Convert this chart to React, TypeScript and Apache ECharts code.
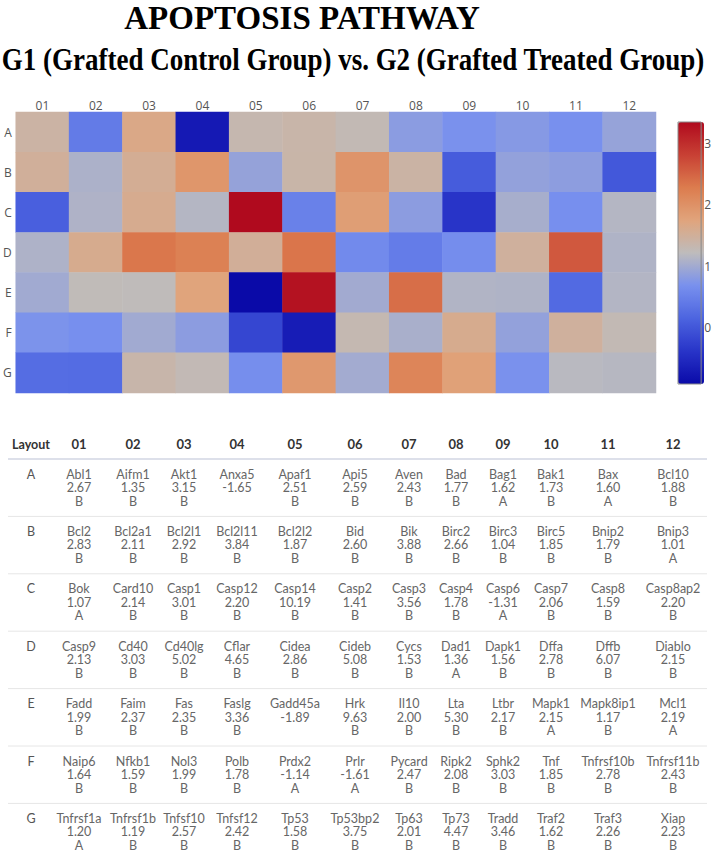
import React, { useEffect, useRef } from "react";
import * as echarts from "echarts";

// ---------------- data ----------------
const columns = ["01", "02", "03", "04", "05", "06", "07", "08", "09", "10", "11", "12"];
const rows = ["A", "B", "C", "D", "E", "F", "G"];
const colorbarTicks = [0, 1, 2, 3];

const genes: string[][] = [
  ["Abl1", "Aifm1", "Akt1", "Anxa5", "Apaf1", "Api5", "Aven", "Bad", "Bag1", "Bak1", "Bax", "Bcl10"],
  ["Bcl2", "Bcl2a1", "Bcl2l1", "Bcl2l11", "Bcl2l2", "Bid", "Bik", "Birc2", "Birc3", "Birc5", "Bnip2", "Bnip3"],
  ["Bok", "Card10", "Casp1", "Casp12", "Casp14", "Casp2", "Casp3", "Casp4", "Casp6", "Casp7", "Casp8", "Casp8ap2"],
  ["Casp9", "Cd40", "Cd40lg", "Cflar", "Cidea", "Cideb", "Cycs", "Dad1", "Dapk1", "Dffa", "Dffb", "Diablo"],
  ["Fadd", "Faim", "Fas", "Faslg", "Gadd45a", "Hrk", "Il10", "Lta", "Ltbr", "Mapk1", "Mapk8ip1", "Mcl1"],
  ["Naip6", "Nfkb1", "Nol3", "Polb", "Prdx2", "Prlr", "Pycard", "Ripk2", "Sphk2", "Tnf", "Tnfrsf10b", "Tnfrsf11b"],
  ["Tnfrsf1a", "Tnfrsf1b", "Tnfsf10", "Tnfsf12", "Tp53", "Tp53bp2", "Tp63", "Tp73", "Tradd", "Traf2", "Traf3", "Xiap"],
];

// fold regulation values as printed in the table
const foldRegulation: number[][] = [
  [2.67, 1.35, 3.15, -1.65, 2.51, 2.59, 2.43, 1.77, 1.62, 1.73, 1.6, 1.88],
  [2.83, 2.11, 2.92, 3.84, 1.87, 2.6, 3.88, 2.66, 1.04, 1.85, 1.79, 1.01],
  [1.07, 2.14, 3.01, 2.2, 10.19, 1.41, 3.56, 1.78, -1.31, 2.06, 1.59, 2.2],
  [2.13, 3.03, 5.02, 4.65, 2.86, 5.08, 1.53, 1.36, 1.56, 2.78, 6.07, 2.15],
  [1.99, 2.37, 2.35, 3.36, -1.89, 9.63, 2.0, 5.3, 2.17, 2.15, 1.17, 2.19],
  [1.64, 1.59, 1.99, 1.78, -1.14, -1.61, 2.47, 2.08, 3.03, 1.85, 2.78, 2.43],
  [1.2, 1.19, 2.57, 2.42, 1.58, 3.75, 2.01, 4.47, 3.46, 1.62, 2.26, 2.23],
];

const groupLetters: string[][] = [
  ["B", "B", "B", "", "B", "B", "B", "B", "A", "B", "A", "B"],
  ["B", "B", "B", "B", "B", "B", "B", "B", "B", "B", "B", "A"],
  ["A", "B", "B", "B", "B", "B", "B", "B", "A", "B", "B", "B"],
  ["B", "B", "B", "B", "B", "B", "B", "A", "B", "B", "B", "B"],
  ["B", "B", "B", "B", "", "B", "B", "B", "B", "A", "B", "A"],
  ["B", "B", "B", "B", "A", "A", "B", "B", "B", "B", "B", "B"],
  ["A", "B", "B", "B", "B", "B", "B", "B", "B", "B", "B", "B"],
];

// ---------------- layout / style ----------------
const tableColX = [79, 133, 184, 237, 295, 355, 409, 456, 503, 551, 608, 673];
const tableLabelX = 31;
const tableHeaderY = 444;
const tableTop = 459;
const tableRowPitch = 57.4;
const tableLineOffsets = [15, 28.5, 42];
const tableFont = "Lato, 'Open Sans', sans-serif";
const axisFont = "'Open Sans', sans-serif";

const heatColors = [
  "#0a0aa8",
  "#2834c8",
  "#4c64e0",
  "#7890ee",
  "#bebcbc",
  "#e0a47c",
  "#dc7c4e",
  "#c84034",
  "#b00a1e",
];

// heatmap value = log2 of fold change (fold regulation < 0 means fold change = -1/x)
const toLog2 = (f: number) => Math.log2(f > 0 ? f : -1 / f);

export default function App() {
  const ref = useRef<HTMLDivElement>(null);

  useEffect(() => {
    document.body.style.margin = "0";
    if (!ref.current) return;
    const chart = echarts.init(ref.current, undefined, { renderer: "svg" });

    const heatData: number[][] = [];
    rows.forEach((_, ri) =>
      columns.forEach((_, ci) => {
        heatData.push([ci, ri, toLog2(foldRegulation[ri][ci])]);
      })
    );
    const vals = heatData.map((d) => d[2]);
    const vMin = Math.min(...vals);
    const vMax = Math.max(...vals);

    const graphic: any[] = [
      {
        type: "text",
        x: 302,
        y: 18,
        style: {
          text: "APOPTOSIS PATHWAY",
          fontFamily: "'Liberation Serif', 'Times New Roman', serif",
          fontWeight: "bold",
          fontSize: 33,
          fill: "#000",
          align: "center",
          verticalAlign: "middle",
        },
      },
      {
        type: "text",
        x: 353,
        y: 59,
        scaleY: 1.15,
        style: {
          text: "G1 (Grafted Control Group) vs. G2 (Grafted Treated Group)",
          fontFamily: "'Liberation Serif', 'Times New Roman', serif",
          fontWeight: "bold",
          fontSize: 27,
          fill: "#000",
          align: "center",
          verticalAlign: "middle",
        },
      },
    ];

    // table header
    graphic.push({
      type: "text",
      x: tableLabelX,
      y: tableHeaderY,
      style: {
        text: "Layout",
        fontFamily: tableFont,
        fontWeight: "bold",
        fontSize: 12.5,
        fill: "#333",
        align: "center",
        verticalAlign: "middle",
      },
    });
    columns.forEach((c, ci) =>
      graphic.push({
        type: "text",
        x: tableColX[ci],
        y: tableHeaderY,
        style: {
          text: c,
          fontFamily: tableFont,
          fontWeight: "bold",
          fontSize: 13,
          fill: "#333",
          align: "center",
          verticalAlign: "middle",
        },
      })
    );
    graphic.push({
      type: "line",
      shape: { x1: 8, y1: tableTop, x2: 707, y2: tableTop },
      style: { stroke: "#dde0ea", lineWidth: 2 },
    });

    rows.forEach((r, ri) => {
      const y0 = tableTop + ri * tableRowPitch;
      if (ri > 0) {
        graphic.push({
          type: "line",
          shape: { x1: 8, y1: y0, x2: 707, y2: y0 },
          style: { stroke: "#e6e6e6", lineWidth: 1 },
        });
      }
      graphic.push({
        type: "text",
        x: tableLabelX,
        y: y0 + tableLineOffsets[0],
        style: {
          text: r,
          fontFamily: tableFont,
          fontSize: 12.5,
          fill: "#555",
          align: "center",
          verticalAlign: "middle",
        },
      });
      columns.forEach((_, ci) => {
        const lines = [
          genes[ri][ci],
          foldRegulation[ri][ci].toFixed(2),
          groupLetters[ri][ci],
        ];
        lines.forEach((t, li) => {
          if (!t) return;
          graphic.push({
            type: "text",
            x: tableColX[ci],
            y: y0 + tableLineOffsets[li],
            style: {
              text: t,
              fontFamily: tableFont,
              fontSize: 12.5,
              lineHeight: 12,
              fill: "#666",
              align: "center",
              verticalAlign: "middle",
            },
          });
        });
      });
    });

    const option: any = {
      animation: false,
      backgroundColor: "#fff",
      tooltip: { show: false },
      grid: [
        { left: 13, top: 112, width: 643, height: 281 },
        {
          left: 678,
          top: 122,
          width: 26,
          height: 262,
          show: true,
          borderColor: "#8a8a8a",
          borderWidth: 1,
          backgroundColor: "transparent",
          z: 10,
        },
      ],
      xAxis: [
        {
          type: "category",
          gridIndex: 0,
          data: columns,
          position: "top",
          axisLine: { show: false },
          axisTick: { show: false },
          splitLine: { show: false },
          axisLabel: { color: "#555", fontSize: 12, margin: 1, fontFamily: axisFont },
        },
        { type: "value", gridIndex: 1, show: false },
      ],
      yAxis: [
        {
          type: "category",
          gridIndex: 0,
          data: rows,
          inverse: true,
          axisLine: { show: false },
          axisTick: { show: false },
          splitLine: { show: false },
          axisLabel: { color: "#555", fontSize: 12, margin: 4, fontFamily: axisFont },
        },
        {
          type: "value",
          gridIndex: 1,
          position: "right",
          min: vMin,
          max: vMax,
          axisLine: { show: false },
          axisTick: { show: false },
          splitLine: { show: false },
          axisLabel: {
            customValues: colorbarTicks,
            color: "#555",
            fontSize: 12,
            margin: 3,
            fontFamily: axisFont,
          },
        },
      ],
      visualMap: {
        type: "continuous",
        seriesIndex: 0,
        min: vMin,
        max: vMax,
        left: 678,
        top: 122,
        itemWidth: 26,
        itemHeight: 262,
        padding: 0,
        calculable: false,
        orient: "vertical",
        inRange: { color: heatColors },
        textStyle: { color: "transparent" },
        text: ["", ""],
      },
      series: [
        {
          type: "heatmap",
          xAxisIndex: 0,
          yAxisIndex: 0,
          data: heatData,
          itemStyle: { borderWidth: 0 },
          emphasis: { disabled: true },
        },
      ],
      graphic,
    };

    chart.setOption(option);
    return () => chart.dispose();
  }, []);

  return <div ref={ref} style={{ width: 714, height: 852, background: "#fff" }} />;
}
